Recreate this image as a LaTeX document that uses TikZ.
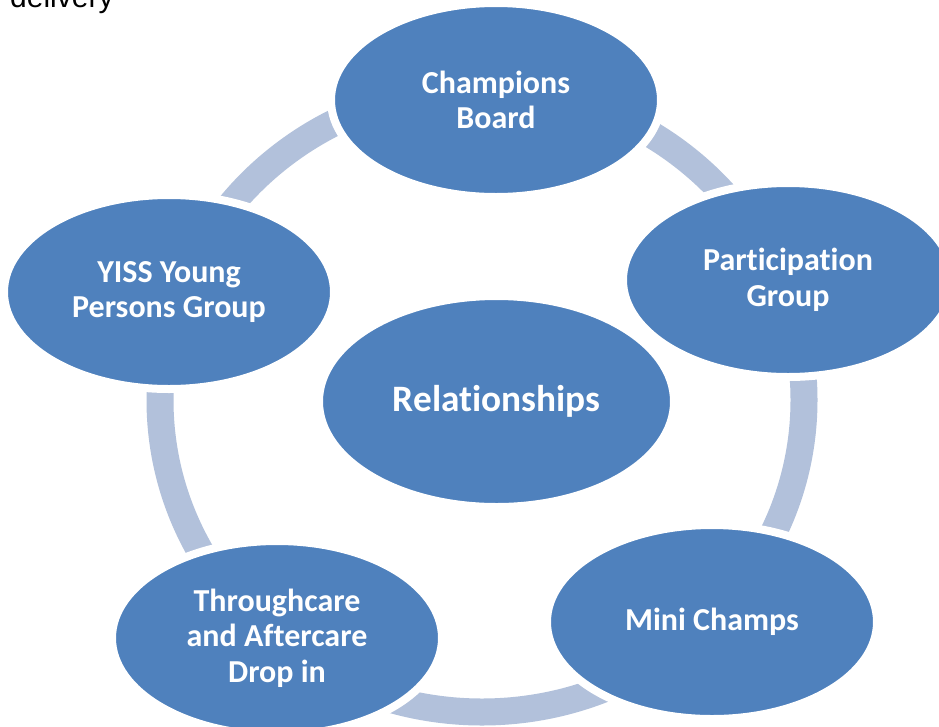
\documentclass[tikz,border=0pt]{standalone}
\usepackage{fontspec}
\setmainfont{Carlito}[Ligatures=NoCommon]
\newfontfamily\arialfont{Liberation Sans}
\usetikzlibrary{shapes.geometric}
\definecolor{nodeblue}{HTML}{4F81BD}
\definecolor{bandblue}{HTML}{B2C1DB}
\tikzset{
  cyclenode/.style={ellipse, fill=nodeblue, draw=white, line width=8pt,
    minimum width=330pt, minimum height=194pt, inner sep=0pt,
    text=white, align=center,
    font=\fontsize{32}{35.5}\selectfont\bfseries},
  centernode/.style={cyclenode, minimum width=355pt, minimum height=211pt,
    font=\fontsize{37.3}{42}\selectfont\bfseries},
  band/.style={draw=bandblue, line width=27pt}
}
\begin{document}
\begin{tikzpicture}[x=1pt,y=-1pt]
\clip (0,0) rectangle (939,726);
\fill[white] (0,0) rectangle (939,726);
% caption fragment
\node[anchor=base west, inner sep=0pt, font=\arialfont\fontsize{30}{36}\selectfont] (cap) at (10,7.5) {delivery};
% ring
\coordinate (ringc) at (482,400);
\draw[band] (ringc) ellipse [x radius=322pt, y radius=312pt];
% nodes
\node[cyclenode] (champ) at (496,100) {Champions\\Board};
\node[cyclenode] (part) at (788,280) {Participation\\Group};
\node[cyclenode] (mini) at (712,622) {Mini Champs};
\node[cyclenode] (through) at (277,638) {Throughcare\\and Aftercare\\Drop in};
\node[cyclenode] (yiss) at (169,292) {YISS Young\\Persons Group};
\node[centernode] (rel) at (496.5,401.5) {Relationships};
\end{tikzpicture}
\end{document}
